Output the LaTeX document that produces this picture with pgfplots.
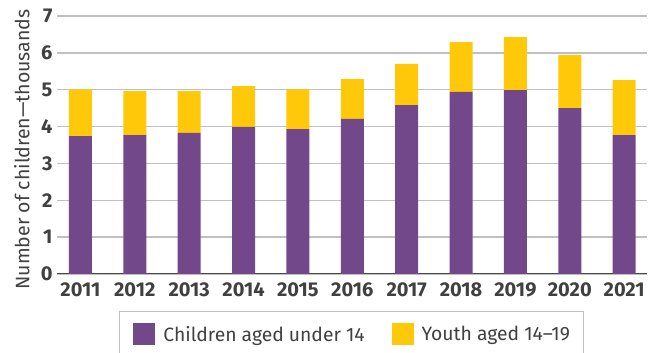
\documentclass[border=0pt]{standalone}
\usepackage{fontspec}
\setmainfont{Fira Sans}
\usepackage{pgfplots}
\pgfplotsset{compat=1.18}
\definecolor{cpurple}{HTML}{73488A}
\definecolor{cyellow}{HTML}{FFC808}
\definecolor{cgrid}{HTML}{C0C0C4}
\definecolor{ctext}{HTML}{404040}
\definecolor{cbase}{HTML}{4A4A4A}
\begin{document}
\begin{tikzpicture}[x=1pt,y=1pt]
\path[use as bounding box] (0,0) rectangle (656,353);
\begin{axis}[
  at={(57pt,79pt)}, anchor=south west,
  scale only axis, width=590pt, height=258pt,
  ybar stacked, bar width=23pt,
  xmin=-0.43, xmax=10.42, ymin=0, ymax=7,
  xtick={0,...,10}, xticklabels={2011,2012,2013,2014,2015,2016,2017,2018,2019,2020,2021},
  ytick={0,...,7},
  axis line style={draw=none},
  major tick length=0pt,
  ymajorgrids, grid style={cgrid, line width=1.3pt},
  ticklabel style={font=\bfseries\fontsize{20}{20}\selectfont, text=ctext},
  /pgf/number format/assume math mode=true,
  xticklabel style={yshift=-5pt},
  yticklabel style={xshift=-1pt},
  legend columns=2,
  legend cell align=left,
  legend style={at={(rel axis cs:0.105,-0.1434)}, anchor=north west,
    draw=cgrid, line width=1pt, inner xsep=14pt, inner ysep=12pt,
    nodes={inner sep=0pt, font=\fontsize{19.3}{19.3}\selectfont, text=ctext},
    column sep=8pt,
    /tikz/every even column/.append style={column sep=27pt}},
  legend image code/.code={\fill[#1] (0pt,-11pt) rectangle (22pt,11pt);},
]
\addplot[fill=cpurple, draw=none] coordinates {(0,3.74) (1,3.77) (2,3.83) (3,3.99) (4,3.93) (5,4.21) (6,4.58) (7,4.94) (8,4.99) (9,4.50) (10,3.77)};
\addplot[fill=cyellow, draw=none] coordinates {(0,1.27) (1,1.19) (2,1.13) (3,1.11) (4,1.08) (5,1.08) (6,1.12) (7,1.35) (8,1.44) (9,1.44) (10,1.49)};
\legend{Children aged under 14, Youth aged 14–19}
\draw[cbase, line width=2pt] (rel axis cs:0,0) -- (rel axis cs:1,0);
\end{axis}
\node[rotate=90, text=ctext, font=\fontsize{19.5}{19.5}\selectfont] at (22,203.5) {Number of children—thousands};
\end{tikzpicture}
\end{document}
